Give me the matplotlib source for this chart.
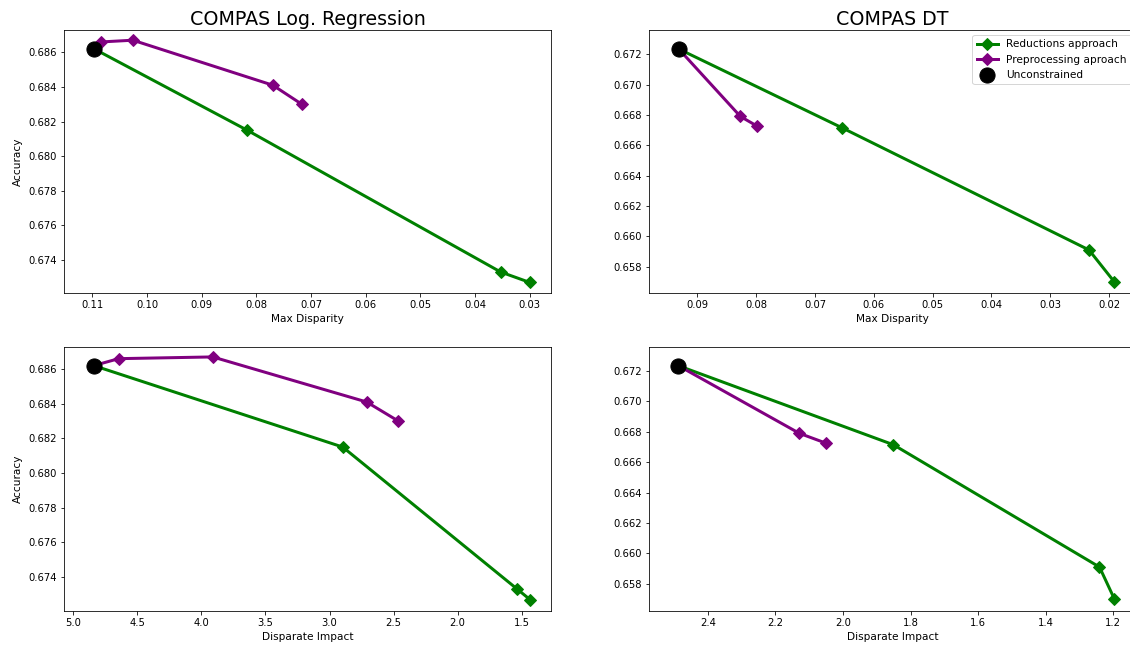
import matplotlib
matplotlib.use("Agg")
import matplotlib.pyplot as plt

# COMPAS logistic regression results
lr_unc_disp = 0.1097
lr_unc_di = 4.841
lr_unc_acc = 0.6862
lr_red_disp = [0.0817, 0.0353, 0.0300]
lr_red_di = [2.897, 1.534, 1.435]
lr_red_acc = [0.6815, 0.6733, 0.6727]
lr_pre_disp = [0.1084, 0.1026, 0.0770, 0.0717]
lr_pre_di = [4.646, 3.912, 2.710, 2.463]
lr_pre_acc = [0.6866, 0.6867, 0.6841, 0.6830]

# COMPAS decision tree results
dt_unc_disp = 0.0932
dt_unc_di = 2.487
dt_unc_acc = 0.67235
dt_red_disp = [0.0654, 0.0234, 0.0191]
dt_red_di = [1.851, 1.241, 1.197]
dt_red_acc = [0.66715, 0.6591, 0.6570]
dt_pre_disp = [0.0827, 0.0798]
dt_pre_di = [2.129, 2.050]
dt_pre_acc = [0.6679, 0.66725]

DPI = 72
fig = plt.figure(figsize=(1130 / DPI, 646 / DPI), dpi=DPI)

W, H = 1130.0, 646.0
def px_axes(left, top, right, bottom):
    return fig.add_axes([left / W, 1 - bottom / H, (right - left) / W, (bottom - top) / H])

ax_tl = px_axes(64, 30, 551, 293.3)
ax_bl = px_axes(64, 346.7, 551, 610.5)
ax_tr = px_axes(649.3, 30, 1136, 293.3)
ax_br = px_axes(649.3, 346.7, 1136, 610.5)


def draw(ax, unc_x, unc_acc, red_x, red_acc, pre_x, pre_acc):
    ax.plot([unc_x] + red_x, [unc_acc] + red_acc, color="green", marker="D",
            markersize=8, linewidth=3, label="Reductions approach")
    ax.plot([unc_x] + pre_x, [unc_acc] + pre_acc, color="purple", marker="D",
            markersize=8, linewidth=3, label="Preprocessing aproach")
    ax.scatter([unc_x], [unc_acc], s=230, color="black", zorder=5, label="Unconstrained")
    ax.tick_params(labelsize=10)


draw(ax_tl, lr_unc_disp, lr_unc_acc, lr_red_disp, lr_red_acc, lr_pre_disp, lr_pre_acc)
draw(ax_bl, lr_unc_di, lr_unc_acc, lr_red_di, lr_red_acc, lr_pre_di, lr_pre_acc)
draw(ax_tr, dt_unc_disp, dt_unc_acc, dt_red_disp, dt_red_acc, dt_pre_disp, dt_pre_acc)
draw(ax_br, dt_unc_di, dt_unc_acc, dt_red_di, dt_red_acc, dt_pre_di, dt_pre_acc)

ax_tl.set_xlim(0.1152, 0.0261)
ax_bl.set_xlim(5.073, 1.271)
ax_tr.set_xlim(0.0982, 0.0154)
ax_br.set_xlim(2.573, 1.133)
for ax in (ax_tl, ax_bl):
    ax.set_ylim(0.67207, 0.68729)
    ax.set_ylabel("Accuracy", fontsize=10.5, labelpad=5)
for ax in (ax_tr, ax_br):
    ax.set_ylim(0.65624, 0.6736)

ax_tl.set_xlabel("Max Disparity", fontsize=10.5)
ax_tr.set_xlabel("Max Disparity", fontsize=10.5)
ax_bl.set_xlabel("Disparate Impact", fontsize=10.5)
ax_br.set_xlabel("Disparate Impact", fontsize=10.5)

ax_tl.set_title("COMPAS Log. Regression", fontsize=19, pad=5)
ax_tr.set_title("COMPAS DT", fontsize=19, pad=5)

ax_tr.legend(loc="upper right", fontsize=10.5, numpoints=1, scatterpoints=1)

fig.savefig("out.png", dpi=DPI)
